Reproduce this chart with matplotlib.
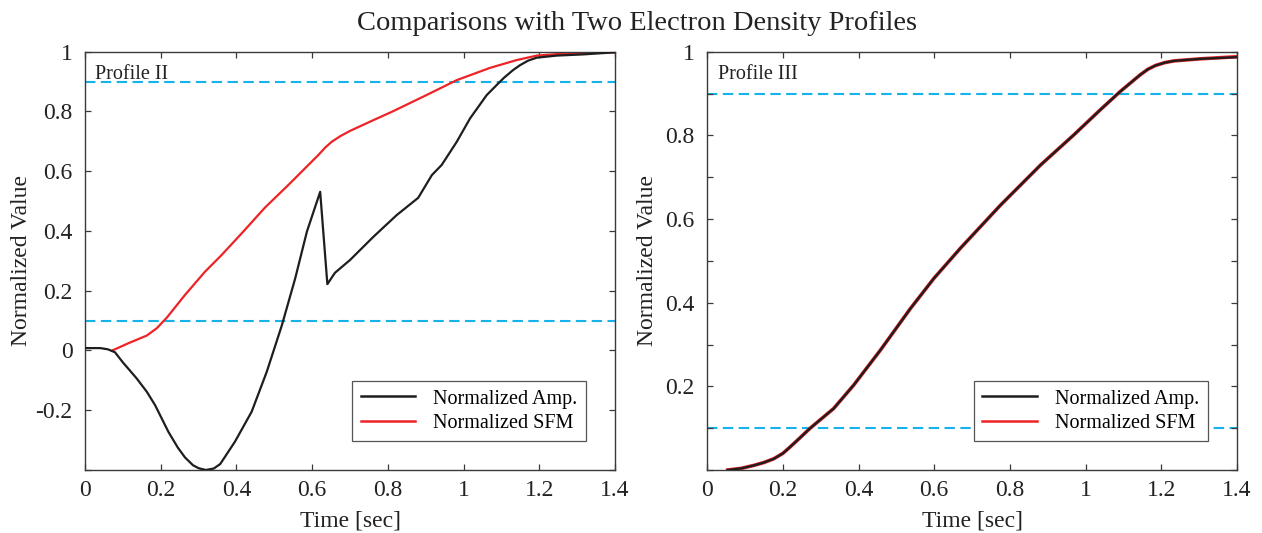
import matplotlib
matplotlib.use("Agg")
import matplotlib.pyplot as plt
import numpy as np

plt.rcParams['font.family'] = ['Liberation Serif', 'DejaVu Serif']

# ---------------- data ----------------
title_text = "Comparisons with Two Electron Density Profiles"
xlabel_text = "Time [sec]"
ylabel_text = "Normalized Value"
legend_labels = ["Normalized Amp.", "Normalized SFM"]
panel_labels = ["Profile II", "Profile III"]
threshold_levels = [0.1, 0.9]

x_ticks = [0, 0.2, 0.4, 0.6, 0.8, 1.0, 1.2, 1.4]
x_ticklabels = ["0", "0.2", "0.4", "0.6", "0.8", "1", "1.2", "1.4"]
left_y_ticks = [-0.4, -0.2, 0, 0.2, 0.4, 0.6, 0.8, 1.0]
left_y_ticklabels = ["", "-0.2", "0", "0.2", "0.4", "0.6", "0.8", "1"]
right_y_ticks = [0, 0.1, 0.2, 0.3, 0.4, 0.5, 0.6, 0.7, 0.8, 0.9, 1.0]
right_y_ticklabels = ["", "", "0.2", "", "0.4", "", "0.6", "", "0.8", "", "1"]

# Profile II - normalized amplitude
p2_amp_t = [0.0, 0.04, 0.06, 0.079, 0.10, 0.136, 0.163, 0.185, 0.22, 0.245,
            0.264, 0.285, 0.30, 0.319, 0.34, 0.357, 0.396, 0.44, 0.48, 0.52,
            0.555, 0.586, 0.621, 0.640, 0.66, 0.70, 0.762, 0.823, 0.880, 0.916,
            0.942, 0.982, 1.017, 1.061, 1.105, 1.13, 1.149, 1.17, 1.193, 1.246,
            1.316, 1.40]
p2_amp_v = [0.008, 0.008, 0.004, -0.006, -0.04, -0.093, -0.138, -0.183, -0.272, -0.325,
            -0.358, -0.384, -0.394, -0.40, -0.395, -0.380, -0.305, -0.205, -0.071, 0.085,
            0.241, 0.398, 0.531, 0.222, 0.26, 0.303, 0.381, 0.453, 0.511, 0.587,
            0.621, 0.699, 0.777, 0.855, 0.911, 0.938, 0.955, 0.970, 0.980, 0.987,
            0.991, 0.998]

# Profile II - normalized SFM
p2_sfm_t = [0.072, 0.114, 0.163, 0.189, 0.216, 0.264, 0.317, 0.361, 0.418, 0.475,
            0.537, 0.616, 0.635, 0.652, 0.675, 0.70, 0.753, 0.814, 0.902, 0.982,
            1.07, 1.14, 1.193, 1.27, 1.40]
p2_sfm_v = [0.0, 0.024, 0.05, 0.074, 0.11, 0.186, 0.264, 0.32, 0.398, 0.478,
            0.554, 0.654, 0.680, 0.699, 0.718, 0.735, 0.766, 0.801, 0.855, 0.905,
            0.946, 0.972, 0.987, 0.994, 0.998]

# Profile III - normalized amplitude
p3_amp_t = [0.054, 0.09, 0.123, 0.15, 0.176, 0.20, 0.22, 0.245, 0.272, 0.334,
            0.387, 0.458, 0.537, 0.599, 0.669, 0.775, 0.881, 0.969, 1.039, 1.092,
            1.145, 1.165, 1.185, 1.21, 1.234, 1.304, 1.40]
p3_amp_v = [0.0, 0.004, 0.011, 0.018, 0.027, 0.040, 0.056, 0.077, 0.10, 0.147,
            0.203, 0.287, 0.386, 0.458, 0.53, 0.633, 0.729, 0.801, 0.861, 0.905,
            0.945, 0.958, 0.967, 0.974, 0.978, 0.983, 0.987]

# Profile III - normalized SFM
p3_sfm_t = [0.054, 0.09, 0.123, 0.15, 0.176, 0.20, 0.22, 0.245, 0.272, 0.334,
            0.387, 0.458, 0.537, 0.599, 0.669, 0.775, 0.881, 0.969, 1.039, 1.092,
            1.145, 1.165, 1.185, 1.21, 1.234, 1.304, 1.40]
p3_sfm_v = [0.0, 0.004, 0.011, 0.018, 0.027, 0.040, 0.056, 0.077, 0.10, 0.147,
            0.203, 0.287, 0.386, 0.458, 0.53, 0.633, 0.729, 0.801, 0.861, 0.905,
            0.945, 0.958, 0.967, 0.974, 0.978, 0.983, 0.988]

# ---------------- style ----------------
BLACK = "#1f1d1e"
RED = "#ee2326"
BLUE = "#16b3ea"
SPINE = "#3a3a3a"
TICKFS = 17
LABELFS = 17
SMALLFS = 14.5

fig = plt.figure(figsize=(12.62, 5.33), dpi=100)
ax1 = fig.add_axes([0.0674, 0.1182, 0.4200, 0.7848])
ax2 = fig.add_axes([0.5605, 0.1182, 0.4195, 0.7848])


def style_axes(ax, yticks, yticklabels, ylim, ylabel_x):
    ax.set_xlim(0, 1.4)
    ax.set_ylim(*ylim)
    ax.set_xticks(x_ticks)
    ax.set_xticklabels(x_ticklabels)
    ax.set_yticks(yticks)
    ax.set_yticklabels(yticklabels)
    ax.tick_params(direction='in', length=4, width=0.9, colors=SPINE,
                   labelcolor="#222222", labelsize=TICKFS,
                   top=True, right=True)
    ax.tick_params(axis='y', pad=9)
    ax.tick_params(axis='x', pad=7)
    for s in ax.spines.values():
        s.set_color(SPINE)
        s.set_linewidth(1.0)
    ax.set_xlabel(xlabel_text, fontsize=LABELFS, color="#222222", labelpad=7)
    ax.set_ylabel(ylabel_text, fontsize=LABELFS, color="#222222")
    ax.yaxis.set_label_coords(ylabel_x, 0.5)


# left panel
for lv in threshold_levels:
    ax1.axhline(lv, color=BLUE, lw=1.5, ls=(0, (5, 2.6)), zorder=1)
l1, = ax1.plot(p2_amp_t, p2_amp_v, color=BLACK, lw=1.6, zorder=3, label=legend_labels[0])
l2, = ax1.plot(p2_sfm_t, p2_sfm_v, color=RED, lw=1.6, zorder=2, label=legend_labels[1])
style_axes(ax1, left_y_ticks, left_y_ticklabels, (-0.4, 1.0), -0.100)
ax1.text(0.018, 0.945, panel_labels[0], transform=ax1.transAxes,
         fontsize=SMALLFS, color="#222222", va='center', ha='left')

# right panel
for lv in threshold_levels:
    ax2.axhline(lv, color=BLUE, lw=1.5, ls=(0, (5, 2.6)), zorder=1)
r2, = ax2.plot(p3_sfm_t, p3_sfm_v, color=RED, lw=2.6, zorder=2, label=legend_labels[1])
r1, = ax2.plot(p3_amp_t, p3_amp_v, color=BLACK, lw=1.7, zorder=3, label=legend_labels[0])
style_axes(ax2, right_y_ticks, right_y_ticklabels, (0.0, 1.0), -0.093)
ax2.text(0.02, 0.945, panel_labels[1], transform=ax2.transAxes,
         fontsize=SMALLFS, color="#222222", va='center', ha='left')

for ax, handles in ((ax1, [l1, l2]), (ax2, [r1, r2])):
    leg = ax.legend(handles, legend_labels, loc='lower right',
                    bbox_to_anchor=(0.945, 0.069), fontsize=SMALLFS,
                    frameon=True, fancybox=False, framealpha=1,
                    edgecolor="#555555", handlelength=2.7, handletextpad=0.9,
                    labelspacing=0.25, borderpad=0.42, borderaxespad=0)
    leg.get_frame().set_linewidth(0.9)
    for h in leg.get_lines():
        h.set_linewidth(1.8)

fig.text(0.505, 0.955, title_text, ha='center', va='center', fontsize=20.5, color="#222222")

fig.savefig("out.png", dpi=100)
